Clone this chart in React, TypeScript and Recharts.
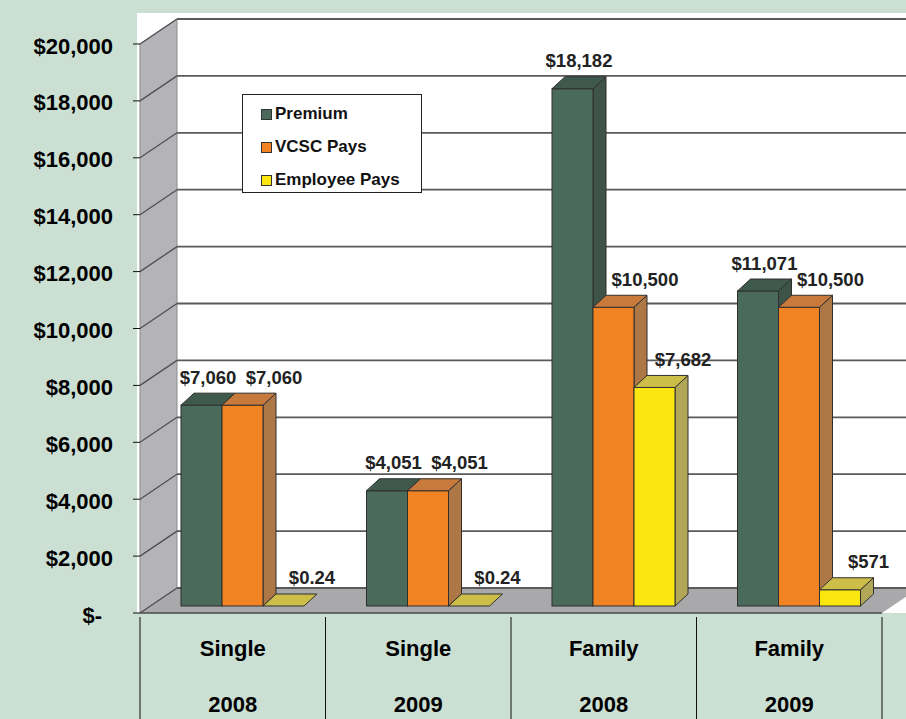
import React from 'react';
import {
  BarChart,
  Bar,
  XAxis,
  YAxis,
  CartesianGrid,
  Legend,
  LabelList,
} from 'recharts';

// plan types and years shown on the category axis
const planTypes = ['Single', 'Single', 'Family', 'Family'];
const planYears = ['2008', '2009', '2008', '2009'];

// annual amounts in dollars
const premium = [7060, 4051, 18182, 11071];
const vcscPays = [7060, 4051, 10500, 10500];
const employeePays = [0.24, 0.24, 7682, 571];

const seriesNames = ['Premium', 'VCSC Pays', 'Employee Pays'];

const yTicks = [0, 2000, 4000, 6000, 8000, 10000, 12000, 14000, 16000, 18000, 20000];

const FONT = '"Liberation Sans", Arial, sans-serif';

// fake 3d depth
const DEPTH_X = 13;
const DEPTH_Y = 12;
const SHIFT = 10;
const WALL_X = 37;
const WALL_BACK = 18;
const WALL_FRONT = 7;

const chartData = planTypes.map((type, i) => ({
  key: `${type} ${planYears[i]}`,
  premium: premium[i],
  vcsc: vcscPays[i],
  employee: employeePays[i],
}));

const palette = {
  premium: { front: '#4a6b5c', top: '#3f5a4d', side: '#3e5448' },
  vcsc: { front: '#f28322', top: '#c77a3c', side: '#ad7746' },
  employee: { front: '#fbe70f', top: '#ccbe48', side: '#b2a757' },
};

type Colors = { front: string; top: string; side: string };

const fmtMoney = (v: number) =>
  v < 1 ? `$${v.toFixed(2)}` : `$${Math.round(v).toLocaleString('en-US')}`;

const Bar3D = (props: any) => {
  const { x, y, width, height, colors } = props as {
    x: number;
    y: number;
    width: number;
    height: number;
    colors: Colors;
  };
  if (x == null || y == null) return null;
  const bx = x + SHIFT;
  const base = y + height;
  const stroke = '#2f2f2f';
  const topFace = `${bx},${y} ${bx + DEPTH_X},${y - DEPTH_Y} ${bx + width + DEPTH_X},${y - DEPTH_Y} ${bx + width},${y}`;
  const sideFace = `${bx + width},${y} ${bx + width + DEPTH_X},${y - DEPTH_Y} ${bx + width + DEPTH_X},${base - DEPTH_Y} ${bx + width},${base}`;
  return (
    <g>
      {height >= 1 && (
        <polygon points={sideFace} fill={colors.side} stroke={stroke} strokeWidth={1} />
      )}
      {height >= 1 && (
        <rect x={bx} y={y} width={width} height={height} fill={colors.front} stroke={stroke} strokeWidth={1} />
      )}
      <polygon points={topFace} fill={colors.top} stroke={stroke} strokeWidth={1} />
    </g>
  );
};

const BarValue = (props: any) => {
  const vb = props.viewBox || {};
  const x = props.x ?? vb.x;
  const y = props.y ?? vb.y;
  const width = props.width ?? vb.width;
  const { value, nudge } = props;
  if (x == null || y == null || value == null) return null;
  const cx = x + SHIFT + width / 2 + DEPTH_X / 2 + nudge;
  const cy = y - DEPTH_Y - 16;
  return (
    <text
      x={cx}
      y={cy + 6.5}
      textAnchor="middle"
      fontFamily={FONT}
      fontWeight="bold"
      fontSize={18.5}
      fill="#222"
    >
      {fmtMoney(Number(value))}
    </text>
  );
};

const YTick = (props: any) => {
  const { x, y, payload } = props;
  const v = payload.value as number;
  const fy = y + WALL_FRONT;
  return (
    <g>
      <line x1={x - 7} y1={fy} x2={x} y2={fy} stroke="#111" strokeWidth={1} />
      <text
        x={v === 0 ? x - 38 : x - 27}
        y={fy + 9.5}
        textAnchor="end"
        fontFamily={FONT}
        fontWeight="bold"
        fontSize={22}
        fill="#000"
      >
        {v === 0 ? '$-' : `$${v.toLocaleString('en-US')}`}
      </text>
    </g>
  );
};

const XTick = (props: any) => {
  const { x, y, payload, index, visibleTicksCount } = props;
  const half = payload?.offset || 92.75;
  const [type, year] = String(payload.value).split(' ');
  const isLast = index === (visibleTicksCount ?? planTypes.length) - 1;
  return (
    <g>
      <line x1={x - half} y1={y + 11} x2={x - half} y2={y + 113} stroke="#111" strokeWidth={1} />
      {isLast && (
        <line x1={x + half} y1={y + 11} x2={x + half} y2={y + 113} stroke="#111" strokeWidth={1} />
      )}
      <text x={x} y={y + 50} textAnchor="middle" fontFamily={FONT} fontWeight="bold" fontSize={22} fill="#000">
        {type}
      </text>
      <text x={x} y={y + 106} textAnchor="middle" fontFamily={FONT} fontWeight="bold" fontSize={22} fill="#000">
        {year}
      </text>
    </g>
  );
};

// walls, floor and gridlines drawn from the y tick positions
const GridLine = (props: any) => {
  const { x1, x2, y1, index, horizontalPoints } = props;
  const pts: number[] = horizontalPoints || [y1];
  const top = Math.min(...pts);
  const bottom = Math.max(...pts);
  const backX = x1 + WALL_X;
  return (
    <g key={props.key}>
      {index === 0 && (
        <g>
          <rect x={x1 - 3} y={top - WALL_BACK - 6} width={x2 - x1 + 80} height={bottom - top + WALL_BACK + 6 + WALL_FRONT} fill="#ffffff" />
          <polygon
            points={`${x1},${top + WALL_FRONT} ${backX},${top - WALL_BACK} ${backX},${bottom - WALL_BACK} ${x1},${bottom + WALL_FRONT}`}
            fill="#b4b4b8"
            stroke="#8a8a8e"
            strokeWidth={1}
          />
          <polygon
            points={`${x1},${bottom + WALL_FRONT} ${backX},${bottom - WALL_BACK} ${x2 + WALL_X},${bottom - WALL_BACK} ${x2},${bottom + WALL_FRONT}`}
            fill="#a9a9ac"
          />
          <line x1={x1} y1={bottom + WALL_FRONT} x2={x2} y2={bottom + WALL_FRONT} stroke="#4a4a4a" strokeWidth={1.5} />
        </g>
      )}
      <line x1={x1} y1={y1 + WALL_FRONT} x2={backX} y2={y1 - WALL_BACK} stroke="#505050" strokeWidth={1.3} />
      <line x1={backX} y1={y1 - WALL_BACK} x2={x2 + 60} y2={y1 - WALL_BACK} stroke="#5a5a5a" strokeWidth={1.8} />
    </g>
  );
};

const LegendBox = (props: any) => {
  const items = [...(props.payload || [])].sort(
    (a: any, b: any) => seriesNames.indexOf(a.value) - seriesNames.indexOf(b.value)
  );
  return (
    <div
      style={{
        width: 178,
        height: 97,
        border: '1px solid #222',
        background: '#fff',
        boxSizing: 'content-box',
        position: 'relative',
        fontFamily: FONT,
        fontWeight: 'bold',
        fontSize: 17,
        color: '#111',
      }}
    >
      {items.map((it: any, i: number) => (
        <div
          key={it.value}
          style={{
            position: 'absolute',
            left: 18,
            top: 8 + i * 33,
            height: 22,
            display: 'flex',
            alignItems: 'center',
            whiteSpace: 'nowrap',
          }}
        >
          <span
            style={{
              display: 'inline-block',
              width: 9,
              height: 9,
              background: it.color,
              border: '1px solid #333',
              marginRight: 3,
            }}
          />
          {it.value}
        </div>
      ))}
    </div>
  );
};

export default function App() {
  return (
    <div
      style={{
        position: 'absolute',
        left: 0,
        top: 0,
        width: 906,
        height: 719,
        background: '#cbdfd3',
        overflow: 'hidden',
      }}
    >
      <BarChart
        width={906}
        height={719}
        data={chartData}
        margin={{ top: 37, right: 24, bottom: 0, left: 0 }}
        barGap={0}
        barSize={41}
      >
        <CartesianGrid vertical={false} horizontal={GridLine as any} />
        <XAxis
          dataKey="key"
          height={113}
          axisLine={false}
          tickLine={false}
          tickSize={0}
          tickMargin={0}
          interval={0}
          tick={<XTick />}
        />
        <YAxis
          width={140}
          domain={[0, 20000]}
          ticks={yTicks}
          axisLine={false}
          tickLine={false}
          tickSize={0}
          tickMargin={0}
          interval={0}
          tick={<YTick />}
        />
        <Legend
          layout="vertical"
          align="center"
          verticalAlign="middle"
          wrapperStyle={{ left: 242, top: 94, width: 180, height: 99 }}
          content={<LegendBox />}
        />
        <Bar
          dataKey="premium"
          name={seriesNames[0]}
          fill={palette.premium.front}
          isAnimationActive={false}
          shape={(p: any) => <Bar3D {...p} colors={palette.premium} />}
        >
          <LabelList dataKey="premium" content={(p: any) => <BarValue {...p} nudge={0} />} />
        </Bar>
        <Bar
          dataKey="vcsc"
          name={seriesNames[1]}
          fill={palette.vcsc.front}
          isAnimationActive={false}
          shape={(p: any) => <Bar3D {...p} colors={palette.vcsc} />}
        >
          <LabelList dataKey="vcsc" content={(p: any) => <BarValue {...p} nudge={25} />} />
        </Bar>
        <Bar
          dataKey="employee"
          name={seriesNames[2]}
          fill={palette.employee.front}
          isAnimationActive={false}
          shape={(p: any) => <Bar3D {...p} colors={palette.employee} />}
        >
          <LabelList dataKey="employee" content={(p: any) => <BarValue {...p} nudge={22} />} />
        </Bar>
      </BarChart>
    </div>
  );
}
